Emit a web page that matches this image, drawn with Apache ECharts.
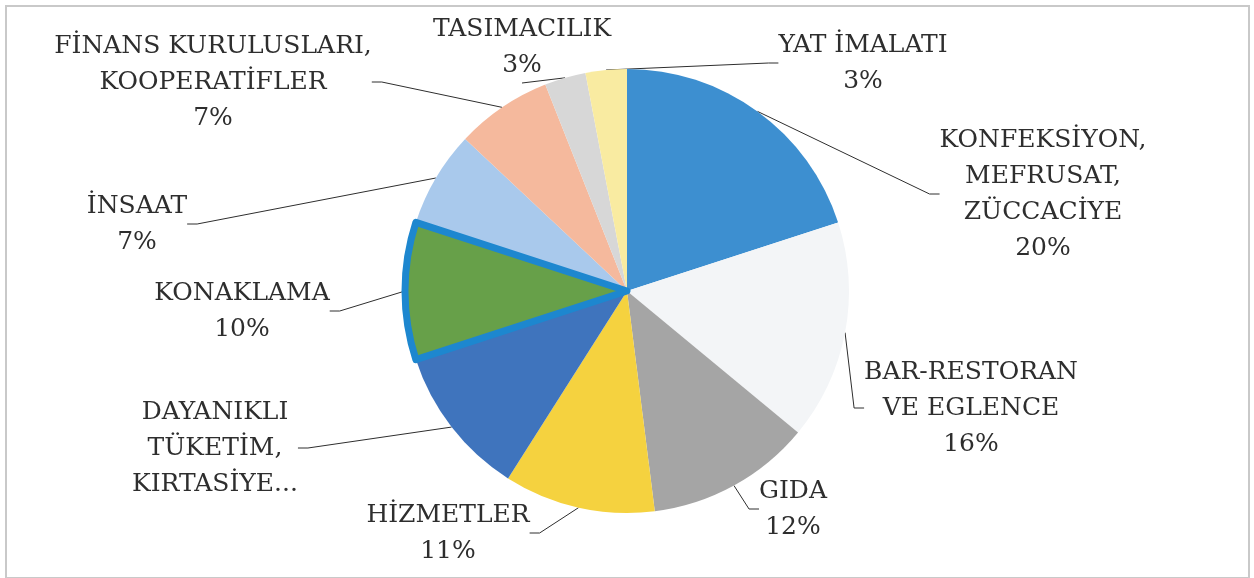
<!DOCTYPE html>
<html>
<head>
<meta charset="utf-8">
<script src="https://cdn.jsdelivr.net/npm/echarts@6/dist/echarts.min.js"></script>
<style>
  html, body { margin: 0; padding: 0; background: #fff; }
  #chart { position: absolute; left: 0; top: 0; width: 1254px; height: 578px; }
  #frame { position: absolute; left: 5px; top: 5px; width: 1241px; height: 570px;
           border: 2px solid #c9c9c9; pointer-events: none; }
</style>
</head>
<body>
<div id="chart"></div>
<div id="frame"></div>
<script>
// sektörler (saat yönünde, tepeden başlayarak)
var categories = [
  'KONFEKSİYON,\nMEFRUSAT,\nZÜCCACİYE',
  'BAR-RESTORAN\nVE EGLENCE',
  'GIDA',
  'HİZMETLER',
  'DAYANIKLI\nTÜKETİM,\nKIRTASİYE...',
  'KONAKLAMA',
  'İNSAAT',
  'FİNANS KURULUSLARI,\nKOOPERATİFLER',
  'TASIMACILIK',
  'YAT İMALATI'
];
var shares = [20, 16, 12, 11, 11, 10, 7, 7, 3, 3];
var sliceColors = ['#3d8fd0', '#f3f5f7', '#a5a5a5', '#f5d23f', '#3f74bd',
                   '#67a049', '#a9c9ec', '#f5b99d', '#d7d7d7', '#f9eba1'];
var highlighted = 5; // KONAKLAMA kenarlikli dilim
var hideShare = 4;   // DAYANIKLI etiketinde yuzde yok

// etiket merkezleri (sayfa koordinati)
var labelPos = [
  [1043, 194], [971, 408], [793, 509], [448, 533], [215, 448],
  [242, 311], [137, 224], [213, 82], [522, 47], [863, 63]
];

var myChart = echarts.init(document.getElementById('chart'));

var option = {
  animation: false,
  series: [
    {
      type: 'pie',
      center: [627, 291],
      radius: 222,
      startAngle: 90,
      clockwise: true,
      avoidLabelOverlap: false,
      percentPrecision: 0,
      silent: true,
      itemStyle: { borderWidth: 0 },
      label: {
        show: true,
        formatter: '{b}\n{d}%',
        fontFamily: 'DejaVu Serif',
        fontSize: 25,
        lineHeight: 36,
        color: '#2e2e2e',
        align: 'center'
      },
      labelLine: {
        show: true,
        length: 10,
        length2: 10,
        lineStyle: { color: '#2e2e2e', width: 1 }
      },
      labelLayout: function (params) {
        var p = labelPos[params.dataIndex];
        return { x: p[0], y: p[1], align: 'center', verticalAlign: 'middle' };
      },
      data: categories.map(function (name, i) {
        var item = { name: name, value: shares[i], itemStyle: { color: sliceColors[i] } };
        if (i === hideShare) item.label = { formatter: '{b}' };
        return item;
      })
    },
    {
      // vurgulanan dilimin kenarligi ustte kalsin diye
      type: 'pie',
      center: [627, 291],
      radius: 222,
      startAngle: 90,
      clockwise: true,
      silent: true,
      label: { show: false },
      labelLine: { show: false },
      data: categories.map(function (name, i) {
        return {
          name: name,
          value: shares[i],
          itemStyle: i === highlighted
            ? { color: sliceColors[i], borderColor: '#1d87cf', borderWidth: 7 }
            : { color: 'rgba(0,0,0,0)', borderWidth: 0 }
        };
      })
    }
  ]
};

myChart.setOption(option);
</script>
</body>
</html>
